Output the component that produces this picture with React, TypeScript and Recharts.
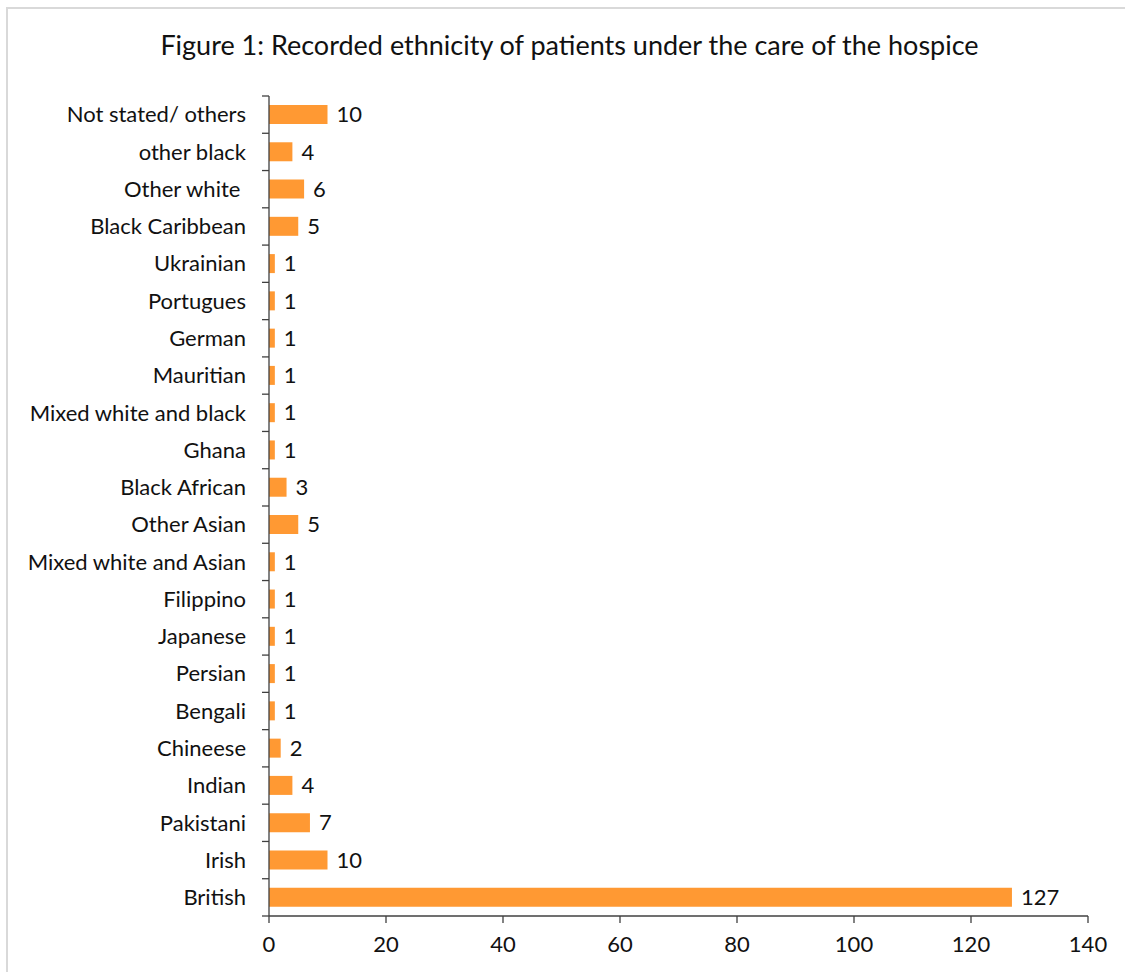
import React from 'react';
import { BarChart, Bar, XAxis, YAxis, LabelList } from 'recharts';

const categories = [
  'Not stated/ others', 'other black', 'Other white ', 'Black Caribbean', 'Ukrainian',
  'Portugues', 'German', 'Mauritian', 'Mixed white and black', 'Ghana', 'Black African',
  'Other Asian', 'Mixed white and Asian', 'Filippino', 'Japanese', 'Persian', 'Bengali',
  'Chineese', 'Indian', 'Pakistani', 'Irish', 'British',
];
const patients = [10, 4, 6, 5, 1, 1, 1, 1, 1, 1, 3, 5, 1, 1, 1, 1, 1, 2, 4, 7, 10, 127];
const xTicks = [0, 20, 40, 60, 80, 100, 120, 140];
const title = 'Figure 1: Recorded ethnicity of patients under the care of the hospice';

const data = categories.map((name, i) => ({ name, value: patients[i] }));

const FONT = 'Lato, "Open Sans", sans-serif';
const TOP = 96;
const BOTTOM_AXIS = 56;
const HEIGHT = 972;
const PLOT_H = HEIGHT - TOP - BOTTOM_AXIS;
const BAND = PLOT_H / categories.length;
const AXIS_COLOR = '#404040';
const FS = 22;

const YTick = (props: any) => {
  const { x, y, payload, index } = props;
  const axisX = x + 23;
  return (
    <g>
      <line x1={axisX - 7} x2={axisX} y1={y - BAND / 2} y2={y - BAND / 2} stroke={AXIS_COLOR} strokeWidth={1.3} />
      {index === categories.length - 1 && (
        <line x1={axisX - 7} x2={axisX} y1={y + BAND / 2} y2={y + BAND / 2} stroke={AXIS_COLOR} strokeWidth={1.3} />
      )}
      <text x={x} y={y} dy="0.35em" textAnchor="end" fill="#111" fontSize={FS} fontFamily={FONT} style={{ whiteSpace: 'pre' }}>
        {payload.value}
      </text>
    </g>
  );
};

export default function App() {
  return (
    <div style={{ position: 'fixed', left: 0, top: 0, width: 1125, height: 972, overflow: 'hidden', background: '#fff' }}>
      <div style={{ position: 'absolute', left: 6, top: 7, width: 1140, height: 1000, border: '2px solid #D9D9D9', boxSizing: 'border-box' }} />
      <div style={{ position: 'absolute', left: 0, top: 28, width: 1139, textAlign: 'center', fontFamily: FONT, fontSize: 27, lineHeight: '34px', color: '#111' }}>
        {title}
      </div>
      <div style={{ position: 'absolute', left: 0, top: 0 }}>
        <BarChart
          width={1125}
          height={HEIGHT}
          data={data}
          layout="vertical"
          margin={{ top: TOP, right: 37, bottom: 0, left: 0 }}
        >
          <XAxis
            type="number"
            domain={[0, 140]}
            ticks={xTicks}
            height={BOTTOM_AXIS}
            tickSize={7}
            tickMargin={13}
            stroke={AXIS_COLOR}
            strokeWidth={1.3}
            tick={{ fill: '#111', fontSize: FS, fontFamily: FONT }}
          />
          <YAxis
            type="category"
            dataKey="name"
            width={269}
            tickLine={false}
            tickSize={0}
            tickMargin={23}
            stroke={AXIS_COLOR}
            strokeWidth={1.3}
            interval={0}
            tick={<YTick />}
          />
          <Bar dataKey="value" fill="#FF9933" barSize={19} isAnimationActive={false}>
            <LabelList dataKey="value" position="right" offset={9} fill="#111" fontSize={FS} fontFamily={FONT} />
          </Bar>
        </BarChart>
      </div>
    </div>
  );
}
